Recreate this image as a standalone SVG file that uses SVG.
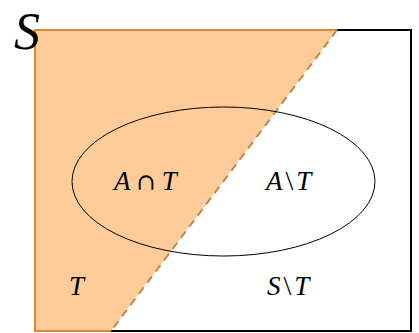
<svg xmlns="http://www.w3.org/2000/svg" width="419" height="333" viewBox="0 0 419 333">
<style>
.lbl{font-family:"Liberation Serif","DejaVu Serif",serif;font-style:italic;font-size:27px;fill:#000}
.op{font-family:"Liberation Serif","DejaVu Serif",serif;font-style:normal;font-size:28px}
.cap{font-family:"DejaVu Serif","Liberation Serif",serif;font-style:normal;font-size:23px}
</style>
<rect width="419" height="333" fill="#fff"/>
<g id="S">
<rect x="35" y="30" width="376" height="301" fill="none" stroke="#000" stroke-width="2"/>
</g>
<g id="T">
<polygon points="35,30 337,30 111,331 35,331" fill="#FFCC99" stroke="none"/>
<polyline points="337,30 35,30 35,331 111,331" fill="none" stroke="#D9873A" stroke-width="2"/>
</g>
<g id="connectors">
<line x1="337" y1="30" x2="111" y2="331" stroke="#C68647" stroke-width="2" stroke-dasharray="8,6"/>
</g>
<g id="A">
<ellipse cx="223.5" cy="181.5" rx="151.5" ry="74.5" fill="none" stroke="#000" stroke-width="1"/>
</g>
<g id="labels">
<text x="14" y="49" font-family="Liberation Serif, serif" font-style="italic" font-size="52">S</text>
<text class="lbl" x="114" y="190">A<tspan class="cap" dx="6">∩</tspan><tspan dx="6">T</tspan></text>
<text class="lbl" x="266" y="190">A<tspan class="op" dx="3">\</tspan><tspan dx="3">T</tspan></text>
<text class="lbl" x="69" y="295">T</text>
<text class="lbl" x="267" y="295">S<tspan class="op" dx="3">\</tspan><tspan dx="3">T</tspan></text>
</g>
</svg>
